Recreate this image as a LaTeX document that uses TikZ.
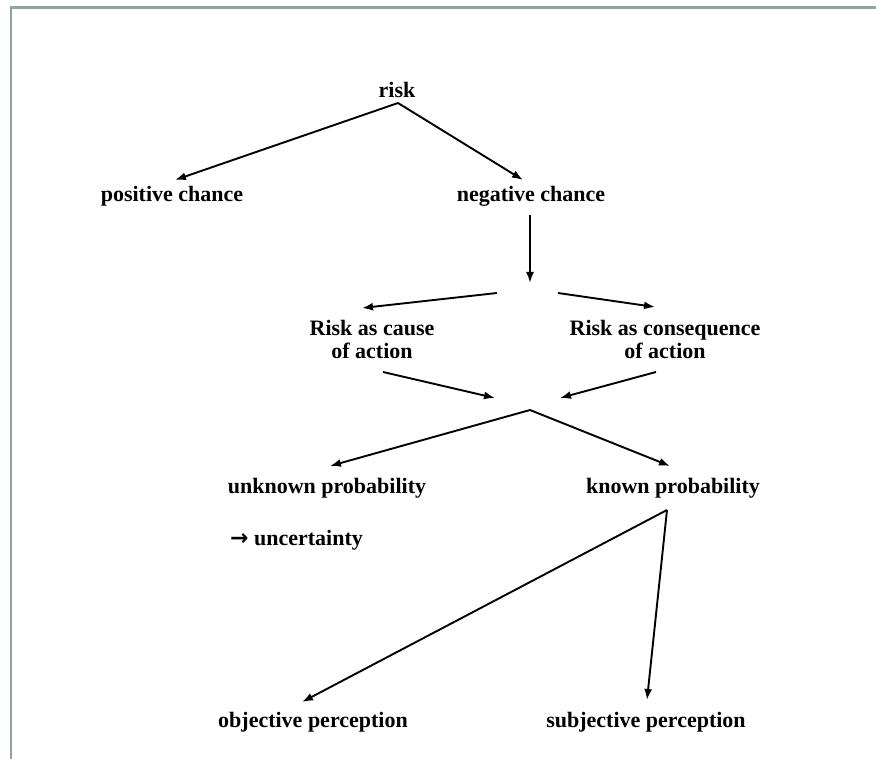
\documentclass[tikz,border=0pt]{standalone}
\usepackage{fontspec}
\setmainfont{Liberation Serif}
\newfontfamily\symfont{DejaVu Sans}
\usetikzlibrary{arrows.meta}
\definecolor{framegrey}{HTML}{8FA3A0}
\begin{document}
\begin{tikzpicture}[x=1pt,y=-1pt,
  lbl/.style={font=\fontsize{22}{23}\selectfont\bfseries, inner sep=0pt, align=center},
  link/.style={line width=1.9pt, -{Latex[length=11pt,width=8pt]}}]
\useasboundingbox (0,0) rectangle (876,759);
\fill[white] (0,0) rectangle (876,759);
% frame: top and left edges
\draw[framegrey, line width=2.5pt] (11,759) -- (11,7.5) -- (876,7.5);

% labels
\node[lbl] (risk) at (397,90) {risk};
\node[lbl] (pos) at (172,196) {positive chance};
\node[lbl] (neg) at (531,196) {negative chance};
\node[lbl] (cause) at (372,339) {Risk as cause\\of action};
\node[lbl] (cons) at (665,339) {Risk as consequence\\of action};
\node[lbl] (unk) at (327,488) {unknown probability};
\node[lbl] (kno) at (673,488) {known probability};
\node[lbl, anchor=west] (unc) at (230,540) {{\symfont →} uncertainty};
\node[lbl] (obj) at (313,722) {objective perception};
\node[lbl] (subj) at (646,722) {subjective perception};

% free ends of the connectors
\coordinate (rtop) at (398,103);
\coordinate (pin) at (175,180);
\coordinate (nin) at (523,180);
\coordinate (nout) at (530,215);
\coordinate (split) at (530,283);
\coordinate (sl) at (497,293);
\coordinate (sr) at (558,293);
\coordinate (cin) at (362,308);
\coordinate (csin) at (655,307);
\coordinate (cout) at (383,372);
\coordinate (csout) at (656,372);
\coordinate (ml) at (495,398);
\coordinate (mr) at (560,398);
\coordinate (merge) at (530,410);
\coordinate (uin) at (330,466);
\coordinate (kin) at (670,466);
\coordinate (kout) at (667,510);
\coordinate (oin) at (302,702);
\coordinate (sin) at (647,700);

% connectors
\draw[link] (rtop) -- (pin);
\draw[link] (rtop) -- (nin);
\draw[link] (nout) -- (split);
\draw[link] (sl) -- (cin);
\draw[link] (sr) -- (csin);
\draw[link] (cout) -- (ml);
\draw[link] (csout) -- (mr);
\draw[link] (merge) -- (uin);
\draw[link] (merge) -- (kin);
\draw[link] (kout) -- (oin);
\draw[link] (kout) -- (sin);
\end{tikzpicture}
\end{document}
